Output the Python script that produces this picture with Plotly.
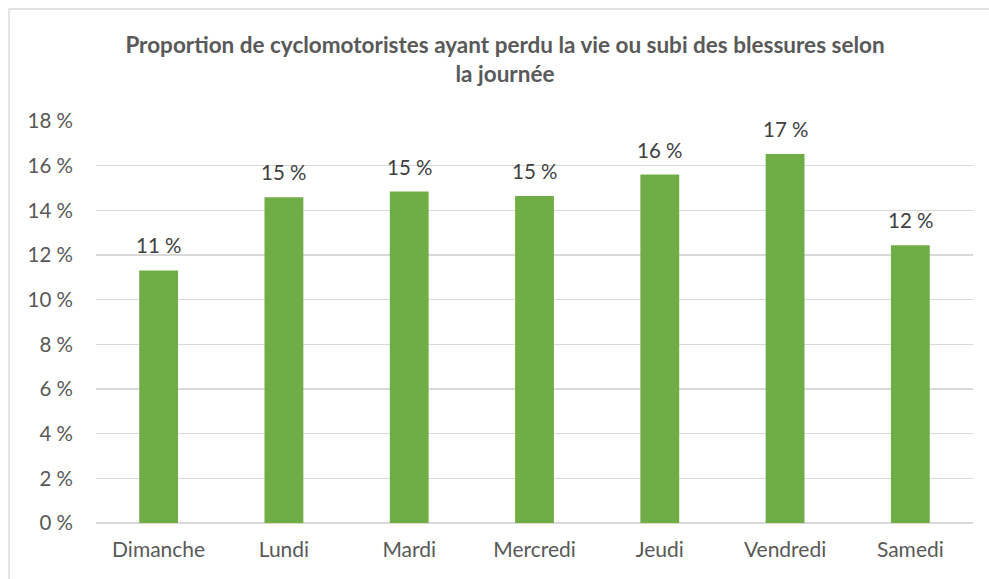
import plotly.graph_objects as go

# Data
days = ["Dimanche", "Lundi", "Mardi", "Mercredi", "Jeudi", "Vendredi", "Samedi"]
proportions = [11.31, 14.59, 14.84, 14.64, 15.60, 16.52, 12.44]
y_tick_values = [0, 2, 4, 6, 8, 10, 12, 14, 16, 18]
y_tick_labels = [f"{v} %" for v in y_tick_values]
value_labels = [f"{round(v)} %" for v in proportions]

title_text = "<b>Proportion de cyclomotoristes ayant perdu la vie ou subi des blessures selon<br>la journée</b>"

FONT = "Lato, Calibri, 'Open Sans', sans-serif"
W, H = 989, 579
ML, MR, MT, MB = 96, 16, 121, 56

fig = go.Figure()
fig.add_trace(go.Bar(
    x=days,
    y=proportions,
    marker=dict(color="#70AD47", line=dict(width=0)),
    width=0.31,
    hoverinfo="skip",
))

for d, v, lab in zip(days, proportions, value_labels):
    fig.add_annotation(
        x=d, y=v, text=lab, showarrow=False,
        xref="x", yref="y", yanchor="middle", yshift=25,
        font=dict(family=FONT, size=20.5, color="#404040"),
    )

plot_w = W - ML - MR
plot_h = H - MT - MB
bx0 = (9 - ML) / plot_w
by1 = (H - MB - 9) / plot_h

fig.add_shape(
    type="rect", xref="paper", yref="paper",
    x0=bx0, x1=1.2, y0=-0.5, y1=by1,
    line=dict(color="#D9D9D9", width=1.3),
    fillcolor="rgba(0,0,0,0)", layer="below",
)

fig.update_layout(
    width=W, height=H,
    margin=dict(l=ML, r=MR, t=MT, b=MB, pad=0),
    paper_bgcolor="white",
    plot_bgcolor="white",
    showlegend=False,
    bargap=0.69,
    title=dict(
        text=title_text,
        x=505 / W, xref="container", xanchor="center",
        y=1 - 53 / H, yref="container", yanchor="top",
        font=dict(family=FONT, size=22.5, color="#595959"),
    ),
    font=dict(family=FONT, color="#595959"),
)

fig.update_xaxes(
    showgrid=False, showline=False, zeroline=False,
    ticks="", tickfont=dict(family=FONT, size=21, color="#595959"),
    ticklabelstandoff=12,
)
fig.update_yaxes(
    range=[0, 18],
    tickvals=y_tick_values, ticktext=y_tick_labels,
    showgrid=True, gridcolor="#D9D9D9", gridwidth=1.3,
    zeroline=True, zerolinecolor="#D9D9D9", zerolinewidth=1.6,
    showline=False, ticks="",
    tickfont=dict(family=FONT, size=20.5, color="#595959"),
    ticklabelstandoff=22,
)

fig.write_html(
    "out.html",
    config={"displayModeBar": False, "staticPlot": True},
    post_script="document.body.style.margin='0';document.body.style.overflow='hidden';",
)
